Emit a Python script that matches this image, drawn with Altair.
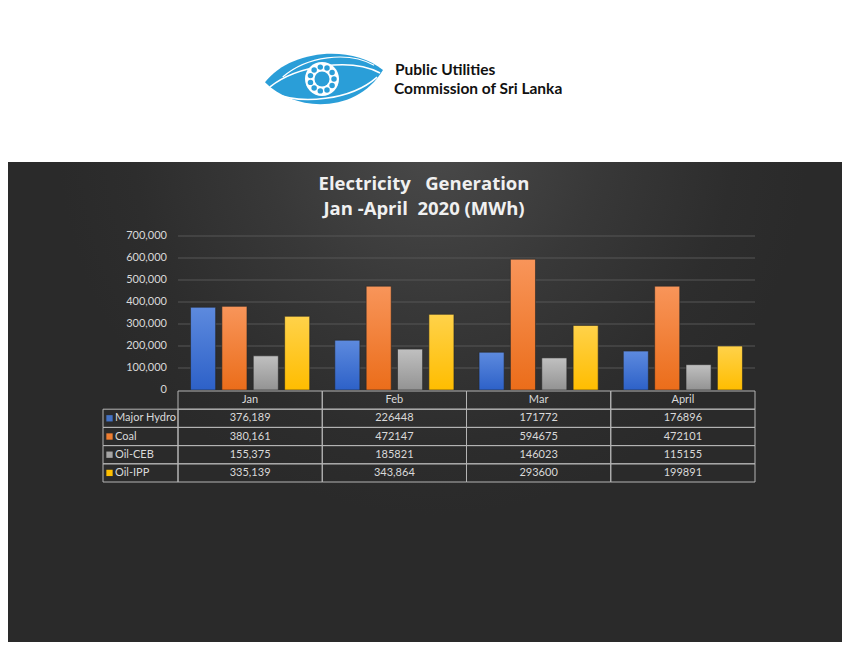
import math
import altair as alt
import pandas as pd

# ---------------- data ----------------
months = ["Jan", "Feb", "Mar", "April"]
series = ["Major Hydro", "Coal", "Oil-CEB", "Oil-IPP"]
major_hydro = [376189, 226448, 171772, 176896]
coal = [380161, 472147, 594675, 472101]
oil_ceb = [155375, 185821, 146023, 115155]
oil_ipp = [335139, 343864, 293600, 199891]
major_hydro_text = ["376,189", "226448", "171772", "176896"]
coal_text = ["380,161", "472147", "594675", "472101"]
oil_ceb_text = ["155,375", "185821", "146023", "115155"]
oil_ipp_text = ["335,139", "343,864", "293600", "199891"]
y_ticks = [0, 100000, 200000, 300000, 400000, 500000, 600000, 700000]
y_tick_labels = ["0", "100,000", "200,000", "300,000", "400,000", "500,000", "600,000", "700,000"]
title_lines = ["Electricity\u00a0\u00a0 Generation", "Jan -April\u00a0 2020 (MWh)"]
org_lines = ["Public Utilities", "Commission of Sri Lanka"]

series_colors = ["#4472c4", "#ed7d31", "#a5a5a5", "#ffc000"]
grad_top = ["#5d8ade", "#f8955a", "#c0c0c0", "#ffd24a"]
grad_bottom = ["#2d61c8", "#eb6d1a", "#939393", "#ffbd00"]

BG = "#2a2a2a"
W, H = 834, 634
FONT = "Lato"

rows = []
for s, vals, txts in zip(series,
                         [major_hydro, coal, oil_ceb, oil_ipp],
                         [major_hydro_text, coal_text, oil_ceb_text, oil_ipp_text]):
    for m, v, t in zip(months, vals, txts):
        rows.append({"series": s, "month": m, "value": v, "label": t})
df = pd.DataFrame(rows)

one = pd.DataFrame({"k": [0]})

x_scale = alt.Scale(domain=months, range=[170, 747], paddingInner=0, paddingOuter=0)
off_scale = alt.Scale(domain=series, paddingInner=0.2, paddingOuter=0.4)
y_scale = alt.Scale(domain=[0, 700000], range=[382, 228], nice=False, zero=True)
row_domain = ["_hdr"] + series
row_scale = alt.Scale(domain=row_domain, range=[383, 474], paddingInner=0, paddingOuter=0)

layers = []

# chart-area radial glow
glow = alt.RadialGradient(
    gradient="radial",
    stops=[alt.GradientStop(color="#4a4a4a", offset=0),
           alt.GradientStop(color="#383838", offset=0.45),
           alt.GradientStop(color="#2d2d2d", offset=0.8),
           alt.GradientStop(color=BG, offset=1)],
    x1=0.5, y1=0.2, r1=0, x2=0.5, y2=0.2, r2=0.5,
)
layers.append(alt.Chart(one).mark_rect(fill=glow).encode(
    x=alt.value(50), x2=alt.value(800), y=alt.value(154), y2=alt.value(560)))

# white banner
layers.append(alt.Chart(one).mark_rect(color="white").encode(
    x=alt.value(-2), x2=alt.value(W + 2), y=alt.value(-2), y2=alt.value(154)))

# logo (decorative)
eye = "M -1 0.04 C -0.6 -0.5 0.45 -0.62 1 -0.17 C 0.55 0.58 -0.5 0.55 -1 0.04 Z"
layers.append(alt.Chart(one).mark_point(shape=eye, size=118 * 118, filled=True,
                                         color="#2a9ed8", opacity=1).encode(
    x=alt.value(316), y=alt.value(72)))
for path, w in [("M -0.92 0.12 C -0.45 -0.25 0.45 -0.38 0.95 -0.12", 1.6),
                ("M -0.85 0.22 C -0.4 0.42 0.45 0.35 0.9 -0.05", 1.6),
                ("M -0.7 -0.05 C -0.3 -0.4 0.4 -0.5 0.85 -0.25", 1.2)]:
    layers.append(alt.Chart(one).mark_point(shape=path, size=118 * 118, filled=False,
                                             color="white", opacity=1, strokeWidth=w).encode(
        x=alt.value(316), y=alt.value(72)))
layers.append(alt.Chart(one).mark_circle(size=34 * 34, color="white", opacity=1).encode(
    x=alt.value(314), y=alt.value(71)))
dots = pd.DataFrame({
    "dx": [314 + 12 * math.cos(2 * math.pi * i / 11) for i in range(11)],
    "dy": [71 + 12 * math.sin(2 * math.pi * i / 11) for i in range(11)],
})
layers.append(alt.Chart(dots).mark_circle(size=30, color="#2a9ed8", opacity=1).encode(
    x=alt.X("dx:Q", scale=alt.Scale(domain=[0, W], range=[0, W]), axis=None),
    y=alt.Y("dy:Q", scale=alt.Scale(domain=[0, H], range=[0, H]), axis=None)))
layers.append(alt.Chart(one).mark_circle(size=15 * 15, color="#2a9ed8", opacity=1).encode(
    x=alt.value(314), y=alt.value(71)))

# organisation name
for i, (txt, yy) in enumerate(zip(org_lines, [61.5, 80.5])):
    layers.append(alt.Chart(one).mark_text(
        text=txt, font=FONT, fontWeight="bold", fontSize=15.5, color="#111111",
        align="left", baseline="middle").encode(
        x=alt.value(387 - (1 if i else 0)), y=alt.value(yy)))

# chart title
for txt, yy in zip(title_lines, [175.5, 200.5]):
    layers.append(alt.Chart(one).mark_text(
        text=txt, font="Open Sans", fontWeight="bold", fontSize=18.5, color="#f0f0f0",
        align="center", baseline="middle").encode(
        x=alt.value(416), y=alt.value(yy)))

# gridlines
grid_df = pd.DataFrame({"v": y_ticks[1:]})
layers.append(alt.Chart(grid_df).mark_rule(color="#575757", strokeWidth=1).encode(
    y=alt.Y("v:Q", scale=y_scale, axis=None),
    x=alt.value(170), x2=alt.value(747)))

# y tick labels
tick_df = pd.DataFrame({"v": y_ticks, "t": y_tick_labels})
layers.append(alt.Chart(tick_df).mark_text(
    font=FONT, fontSize=11, color="#d9d9d9", align="right", baseline="middle").encode(
    y=alt.Y("v:Q", scale=y_scale, axis=None),
    x=alt.value(159), text="t:N"))

# bars
for s, top, bot in zip(series, grad_top, grad_bottom):
    grad = alt.LinearGradient(
        gradient="linear",
        stops=[alt.GradientStop(color=top, offset=0), alt.GradientStop(color=bot, offset=1)],
        x1=0, x2=0, y1=0, y2=1)
    layers.append(alt.Chart(df).transform_filter(alt.datum.series == s).mark_bar(
        fill=grad, stroke="#262626", strokeWidth=0.6).encode(
        x=alt.X("month:N", scale=x_scale, axis=None),
        xOffset=alt.XOffset("series:N", scale=off_scale),
        y=alt.Y("value:Q", scale=y_scale, axis=None)))

# table cells
cells = pd.DataFrame([{"month": m, "row": r} for r in row_domain for m in months])
layers.append(alt.Chart(cells).mark_rect(filled=False, color="#b4b4b4", strokeWidth=1).encode(
    x=alt.X("month:N", scale=x_scale, axis=None),
    y=alt.Y("row:N", scale=row_scale, axis=None)))
legend_cells = pd.DataFrame({"row": series})
layers.append(alt.Chart(legend_cells).mark_rect(filled=False, color="#b4b4b4", strokeWidth=1).encode(
    x=alt.value(95), x2=alt.value(170),
    y=alt.Y("row:N", scale=row_scale, axis=None)))

# header text
hdr = pd.DataFrame({"month": months, "row": ["_hdr"] * 4})
layers.append(alt.Chart(hdr).mark_text(
    font=FONT, fontSize=11, color="#d9d9d9", align="center", baseline="middle").encode(
    x=alt.X("month:N", scale=x_scale, axis=None),
    y=alt.Y("row:N", scale=row_scale, axis=None),
    text="month:N"))

# value text
layers.append(alt.Chart(df).mark_text(
    font=FONT, fontSize=11, color="#d9d9d9", align="center", baseline="middle").encode(
    x=alt.X("month:N", scale=x_scale, axis=None),
    y=alt.Y("series:N", scale=row_scale, axis=None),
    text="label:N"))

# legend keys and names
layers.append(alt.Chart(legend_cells).mark_square(size=40, opacity=1).encode(
    x=alt.value(101.5),
    y=alt.Y("row:N", scale=row_scale, axis=None),
    color=alt.Color("row:N", scale=alt.Scale(domain=series, range=series_colors), legend=None)))
layers.append(alt.Chart(legend_cells).mark_text(
    font=FONT, fontSize=11, color="#d9d9d9", align="left", baseline="middle").encode(
    x=alt.value(107),
    y=alt.Y("row:N", scale=row_scale, axis=None),
    text="row:N"))

chart = alt.layer(*layers).resolve_scale(y="independent").properties(
    width=W, height=H,
    autosize=alt.AutoSizeParams(type="none"),
    padding=0,
    background=BG,
).configure_view(strokeWidth=0)

chart.save("out.html", embed_options={"renderer": "svg", "actions": False})
